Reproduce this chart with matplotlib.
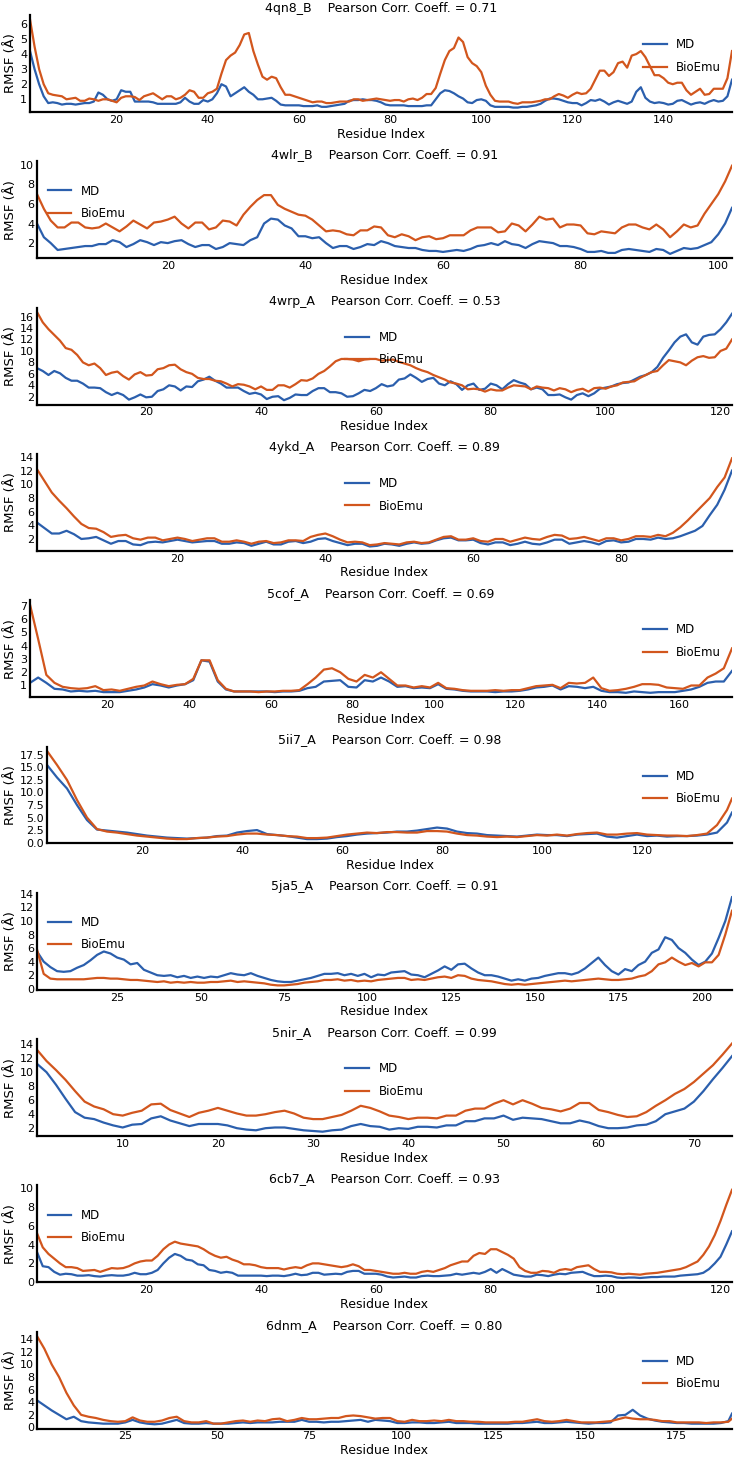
import numpy as np
import matplotlib.pyplot as plt
from matplotlib.ticker import MultipleLocator

plt.rcParams['font.family'] = 'DejaVu Sans'

# --- RMSF per residue (MD = blue, BioEmu = orange) ---

# 4qn8_B, residues 1..155
md_4qn8 = [4.2, 3.0, 2.0, 1.2, 0.75, 0.8, 0.75, 0.65, 0.7, 0.7,
           0.65, 0.7, 0.75, 0.75, 0.85, 1.45, 1.3, 1.0, 0.9, 1.0,
           1.6, 1.5, 1.5, 0.85, 0.85, 0.85, 0.85, 0.8, 0.7, 0.7,
           0.7, 0.7, 0.7, 0.8, 1.1, 0.85, 0.7, 0.7, 0.95, 0.85,
           1.0, 1.4, 2.0, 1.85, 1.2, 1.4, 1.6, 1.8, 1.5, 1.3,
           1.0, 1.0, 1.05, 1.1, 0.9, 0.65, 0.6, 0.6, 0.6, 0.6,
           0.55, 0.55, 0.55, 0.6, 0.5, 0.5, 0.55, 0.6, 0.65, 0.7,
           0.9, 0.95, 0.95, 1.0, 0.95, 0.95, 0.9, 0.8, 0.65, 0.6,
           0.6, 0.6, 0.6, 0.55, 0.55, 0.55, 0.55, 0.6, 0.6, 1.0,
           1.4, 1.6, 1.55, 1.4, 1.2, 1.05, 0.8, 0.75, 0.95, 1.0,
           0.9, 0.6, 0.5, 0.5, 0.5, 0.5, 0.45, 0.45, 0.5, 0.5,
           0.55, 0.6, 0.7, 0.9, 1.05, 1.05, 1.0, 0.9, 0.8, 0.75,
           0.75, 0.6, 0.75, 0.95, 0.9, 1.0, 0.85, 0.65, 0.8, 0.9,
           0.8, 0.7, 0.85, 1.5, 1.8, 1.1, 0.85, 0.75, 0.8, 0.75,
           0.65, 0.7, 0.9, 0.95, 0.8, 0.65, 0.75, 0.8, 0.7, 0.85,
           0.95, 0.85, 0.9, 1.2, 2.3]
bio_4qn8 = [6.3, 4.5, 3.0, 2.0, 1.4, 1.3, 1.25, 1.2, 1.0, 1.05,
            1.1, 0.9, 0.9, 1.05, 1.0, 0.9, 1.0, 1.0, 0.9, 0.8,
            1.1, 1.2, 1.2, 1.15, 0.95, 1.2, 1.3, 1.4, 1.2, 1.0,
            1.2, 1.2, 1.0, 1.1, 1.3, 1.6, 1.5, 1.1, 1.1, 1.4,
            1.5, 1.7, 2.7, 3.6, 3.9, 4.1, 4.6, 5.3, 5.4, 4.2,
            3.3, 2.5, 2.3, 2.5, 2.4, 1.8, 1.3, 1.3, 1.2, 1.1,
            1.0, 0.9, 0.8, 0.85, 0.85, 0.75, 0.75, 0.8, 0.85, 0.85,
            0.85, 1.0, 1.0, 0.9, 0.95, 1.0, 1.05, 1.0, 0.95, 0.9,
            0.95, 0.95, 0.85, 1.0, 1.05, 0.95, 1.1, 1.35, 1.35, 1.75,
            2.7, 3.6, 4.2, 4.4, 5.1, 4.8, 3.8, 3.4, 3.2, 2.8,
            1.9, 1.3, 0.9, 0.85, 0.85, 0.85, 0.75, 0.7, 0.8, 0.8,
            0.8, 0.85, 0.9, 1.0, 1.0, 1.2, 1.35, 1.25, 1.1, 1.3,
            1.45, 1.35, 1.4, 1.7, 2.3, 2.9, 2.9, 2.55, 2.8, 3.4,
            3.5, 3.1, 3.9, 4.0, 4.2, 3.8, 3.2, 2.6, 2.6, 2.4,
            2.1, 2.0, 2.1, 2.1, 1.6, 1.3, 1.5, 1.7, 1.3, 1.35,
            1.7, 1.7, 1.7, 2.4, 4.2]

# 4wlr_B, residues 1..102
md_4wlr = [4.0, 2.6, 2.0, 1.3, 1.4, 1.5, 1.6, 1.7, 1.7, 1.9,
           1.9, 2.3, 2.1, 1.6, 1.9, 2.3, 2.1, 1.8, 2.1, 2.0,
           2.2, 2.3, 1.9, 1.6, 1.8, 1.8, 1.4, 1.6, 2.0, 1.9,
           1.8, 2.3, 2.6, 4.0, 4.5, 4.4, 3.8, 3.5, 2.7, 2.7,
           2.5, 2.6, 2.0, 1.5, 1.7, 1.7, 1.4, 1.6, 1.9, 1.8,
           2.2, 2.0, 1.7, 1.6, 1.5, 1.5, 1.3, 1.2, 1.2, 1.1,
           1.2, 1.3, 1.2, 1.4, 1.7, 1.8, 2.0, 1.8, 2.2, 1.9,
           1.8, 1.5, 1.9, 2.2, 2.1, 2.0, 1.7, 1.7, 1.6, 1.4,
           1.1, 1.1, 1.2, 1.0, 1.0, 1.3, 1.4, 1.3, 1.2, 1.1,
           1.4, 1.3, 0.9, 1.2, 1.5, 1.4, 1.5, 1.8, 2.1, 2.9,
           4.0, 5.6]
bio_4wlr = [7.0, 5.5, 4.3, 3.6, 3.6, 4.1, 4.1, 3.6, 3.5, 3.6,
            4.0, 3.6, 3.2, 3.7, 4.3, 3.9, 3.5, 4.1, 4.2, 4.4,
            4.7, 4.0, 3.5, 4.1, 4.1, 3.4, 3.6, 4.3, 4.2, 3.8,
            4.9, 5.7, 6.4, 6.9, 6.9, 5.9, 5.5, 5.2, 4.9, 4.8,
            4.4, 3.8, 3.2, 3.3, 3.2, 2.9, 2.8, 3.3, 3.3, 3.7,
            3.6, 2.8, 2.6, 2.9, 2.7, 2.3, 2.6, 2.7, 2.4, 2.5,
            2.8, 2.8, 2.8, 3.3, 3.6, 3.6, 3.6, 3.1, 3.2, 4.0,
            3.8, 3.2, 3.9, 4.7, 4.4, 4.5, 3.6, 3.9, 3.9, 3.8,
            3.0, 2.9, 3.2, 3.1, 3.0, 3.6, 3.9, 3.9, 3.6, 3.4,
            3.9, 3.4, 2.6, 3.2, 3.9, 3.6, 3.8, 5.0, 6.0, 7.0,
            8.3, 9.9]

# 4wrp_A, residues 1..122
md_4wrp = [7.0, 6.5, 5.8, 6.5, 6.1, 5.3, 4.8, 4.8, 4.3, 3.6,
           3.6, 3.5, 2.8, 2.3, 2.7, 2.3, 1.5, 1.9, 2.4, 1.9,
           2.0, 3.0, 3.3, 4.0, 3.8, 3.1, 3.8, 3.7, 4.7, 5.0,
           5.5, 4.8, 4.3, 3.6, 3.6, 3.6, 3.0, 2.5, 2.7, 2.4,
           1.6, 2.0, 2.1, 1.4, 1.8, 2.4, 2.3, 2.3, 3.0, 3.5,
           3.5, 2.8, 2.8, 2.6, 2.0, 2.1, 2.6, 3.2, 3.0, 3.5,
           4.2, 3.8, 4.0, 5.0, 5.2, 5.9, 5.3, 4.6, 5.1, 5.3,
           4.3, 4.0, 4.7, 4.2, 3.2, 4.0, 4.3, 3.2, 3.4, 4.3,
           4.0, 3.3, 4.2, 4.9, 4.5, 4.2, 3.3, 3.6, 3.3, 2.3,
           2.3, 2.4, 1.9, 1.5, 2.3, 2.6, 2.1, 2.6, 3.4, 3.6,
           3.8, 4.2, 4.4, 4.5, 5.0, 5.5, 5.8, 6.3, 7.2, 8.8,
           10.1, 11.5, 12.5, 12.9, 11.5, 11.1, 12.5, 12.8, 12.9, 13.8,
           15.0, 16.5]
bio_4wrp = [16.8, 15.0, 13.8, 12.8, 11.8, 10.5, 10.2, 9.3, 8.0, 7.5,
            7.8, 7.0, 5.8, 6.2, 6.4, 5.6, 5.0, 5.9, 6.3, 5.7,
            5.8, 6.8, 7.0, 7.5, 7.6, 6.8, 6.3, 6.0, 5.3, 5.1,
            5.1, 4.8, 4.7, 4.3, 3.8, 4.2, 4.1, 3.8, 3.3, 3.8,
            3.2, 3.2, 4.0, 4.0, 3.6, 4.2, 4.9, 4.8, 5.2, 6.0,
            6.5, 7.3, 8.2, 8.6, 8.6, 8.5, 8.2, 8.5, 8.6, 8.6,
            8.3, 8.4, 8.5, 8.1, 7.8, 7.5, 7.0, 6.6, 6.3, 5.8,
            5.4, 5.0, 4.5, 4.3, 4.0, 3.3, 3.4, 3.3, 2.9, 3.3,
            3.1, 3.1, 3.6, 4.0, 3.9, 3.8, 3.3, 3.8, 3.6, 3.5,
            3.1, 3.5, 3.3, 2.8, 3.2, 3.4, 2.9, 3.5, 3.6, 3.4,
            3.8, 4.0, 4.5, 4.6, 4.7, 5.3, 5.8, 6.3, 6.5, 7.5,
            8.4, 8.2, 8.0, 7.5, 8.3, 8.9, 9.1, 8.8, 8.9, 10.0,
            10.4, 12.0]

# 4ykd_A, residues 1..95
md_4ykd = [4.4, 3.6, 2.8, 2.8, 3.2, 2.7, 2.0, 2.1, 2.3, 1.8,
           1.3, 1.7, 1.7, 1.2, 1.1, 1.5, 1.6, 1.5, 1.7, 1.9,
           1.7, 1.5, 1.6, 1.7, 1.7, 1.3, 1.3, 1.5, 1.4, 1.0,
           1.3, 1.6, 1.2, 1.2, 1.6, 1.7, 1.4, 1.6, 2.0, 2.1,
           1.7, 1.4, 1.1, 1.3, 1.3, 0.9, 1.0, 1.3, 1.2, 1.0,
           1.3, 1.5, 1.3, 1.4, 1.8, 2.1, 2.2, 1.8, 1.8, 1.9,
           1.4, 1.2, 1.5, 1.5, 1.1, 1.3, 1.6, 1.3, 1.2, 1.5,
           1.9, 1.9, 1.3, 1.5, 1.7, 1.5, 1.2, 1.7, 1.8, 1.5,
           1.6, 2.0, 2.0, 1.9, 2.2, 2.0, 2.1, 2.4, 2.8, 3.2,
           3.9, 5.5, 7.0, 9.2, 12.0]
bio_4ykd = [12.2, 10.5, 8.8, 7.6, 6.5, 5.3, 4.2, 3.6, 3.5, 3.0,
            2.3, 2.5, 2.6, 2.1, 1.9, 2.2, 2.2, 1.8, 2.0, 2.2,
            2.0, 1.7, 1.9, 2.1, 2.1, 1.6, 1.6, 1.8, 1.6, 1.3,
            1.6, 1.7, 1.4, 1.5, 1.8, 1.8, 1.7, 2.3, 2.6, 2.8,
            2.4, 1.9, 1.5, 1.6, 1.5, 1.1, 1.2, 1.4, 1.3, 1.2,
            1.5, 1.6, 1.4, 1.5, 1.9, 2.3, 2.4, 1.9, 1.9, 2.1,
            1.7, 1.6, 2.0, 2.0, 1.6, 1.9, 2.2, 2.0, 1.9, 2.3,
            2.6, 2.5, 2.0, 2.1, 2.3, 2.0, 1.7, 2.1, 2.1, 1.8,
            2.0, 2.4, 2.4, 2.3, 2.6, 2.4, 2.9, 3.7, 4.7, 5.8,
            6.9, 8.0, 9.6, 11.0, 13.8]

# 5cof_A, every second residue 1..173
res_5cof = list(range(1, 174, 2))
md_5cof = [1.2, 1.6, 1.2, 0.75, 0.7, 0.55, 0.6, 0.55, 0.6, 0.5,
           0.5, 0.5, 0.6, 0.7, 0.85, 1.1, 1.0, 0.85, 1.0, 1.1,
           1.4, 2.9, 2.8, 1.3, 0.7, 0.55, 0.55, 0.55, 0.55, 0.55,
           0.5, 0.55, 0.55, 0.6, 0.8, 0.9, 1.3, 1.35, 1.4, 0.9,
           0.85, 1.4, 1.3, 1.6, 1.3, 0.9, 0.95, 0.8, 0.85, 0.8,
           1.1, 0.75, 0.7, 0.6, 0.55, 0.55, 0.55, 0.5, 0.55, 0.55,
           0.6, 0.7, 0.85, 0.9, 1.0, 0.7, 0.95, 0.9, 0.8, 0.9,
           0.6, 0.5, 0.5, 0.45, 0.55, 0.5, 0.45, 0.5, 0.5, 0.5,
           0.6, 0.7, 0.9, 1.2, 1.3, 1.3, 2.1]
bio_5cof = [7.1, 4.5, 1.8, 1.2, 0.9, 0.8, 0.75, 0.8, 0.95, 0.65,
            0.7, 0.6, 0.75, 0.9, 1.0, 1.3, 1.1, 0.95, 1.05, 1.1,
            1.5, 2.9, 2.9, 1.4, 0.75, 0.55, 0.55, 0.55, 0.5, 0.55,
            0.55, 0.6, 0.6, 0.65, 1.1, 1.6, 2.2, 2.3, 2.0, 1.5,
            1.3, 1.8, 1.6, 2.0, 1.5, 1.0, 1.0, 0.85, 0.95, 0.85,
            1.2, 0.8, 0.75, 0.65, 0.6, 0.6, 0.6, 0.65, 0.6, 0.65,
            0.65, 0.8, 0.95, 1.0, 1.05, 0.8, 1.2, 1.15, 1.2, 1.6,
            0.8, 0.6, 0.65, 0.75, 0.9, 1.1, 1.1, 1.05, 0.85, 0.8,
            0.75, 1.0, 1.0, 1.6, 1.9, 2.3, 3.8]

# 5ii7_A, every second residue 1..137 plus 138
res_5ii7 = list(range(1, 138, 2)) + [138]
md_5ii7 = [15.5, 13.0, 10.8, 7.5, 4.5, 2.6, 2.4, 2.2, 2.0, 1.7,
           1.4, 1.2, 1.0, 0.9, 0.8, 0.9, 1.0, 1.3, 1.4, 2.0,
           2.3, 2.5, 1.7, 1.5, 1.3, 1.0, 0.7, 0.7, 0.8, 1.1,
           1.3, 1.6, 1.8, 1.9, 2.0, 2.2, 2.2, 2.4, 2.7, 3.0,
           2.8, 2.2, 1.9, 1.8, 1.5, 1.4, 1.3, 1.2, 1.4, 1.6,
           1.5, 1.5, 1.3, 1.6, 1.7, 1.8, 1.2, 1.0, 1.3, 1.6,
           1.3, 1.4, 1.2, 1.3, 1.3, 1.4, 1.6, 2.0, 4.0, 6.0]
bio_5ii7 = [18.3, 15.5, 12.5, 8.5, 5.0, 2.7, 2.2, 2.0, 1.7, 1.4,
            1.2, 1.0, 0.8, 0.7, 0.7, 0.9, 1.0, 1.2, 1.3, 1.6,
            1.8, 1.8, 1.6, 1.5, 1.3, 1.2, 0.9, 0.9, 1.0, 1.3,
            1.6, 1.8, 2.0, 1.9, 2.1, 2.1, 2.0, 2.0, 2.3, 2.3,
            2.2, 1.8, 1.5, 1.4, 1.2, 1.1, 1.2, 1.1, 1.3, 1.5,
            1.4, 1.6, 1.4, 1.7, 1.9, 2.0, 1.6, 1.6, 1.8, 1.9,
            1.6, 1.5, 1.4, 1.4, 1.3, 1.5, 1.8, 3.5, 6.5, 8.8]

# 5ja5_A, every second residue 1..209
res_5ja5 = list(range(1, 210, 2))
md_5ja5 = [5.5, 4.0, 3.2, 2.6, 2.5, 2.6, 3.1, 3.5, 4.2, 5.0,
           5.5, 5.2, 4.6, 4.3, 3.6, 3.8, 2.8, 2.4, 2.0, 1.9,
           2.0, 1.7, 1.9, 1.6, 1.8, 1.6, 1.8, 1.7, 2.0, 2.3,
           2.1, 2.0, 2.3, 1.9, 1.6, 1.3, 1.1, 1.0, 1.0, 1.2,
           1.4, 1.6, 1.9, 2.2, 2.2, 2.3, 2.0, 2.2, 1.9, 2.2,
           1.7, 2.1, 2.0, 2.4, 2.5, 2.6, 2.1, 2.0, 1.7, 2.2,
           2.7, 3.3, 2.8, 3.6, 3.7, 3.0, 2.4, 2.0, 2.0, 1.8,
           1.5, 1.2, 1.4, 1.2, 1.5, 1.6, 1.9, 2.1, 2.3, 2.3,
           2.1, 2.4, 3.0, 3.8, 4.6, 3.5, 2.6, 2.1, 2.9, 2.6,
           3.5, 4.0, 5.3, 5.8, 7.6, 7.2, 6.0, 5.3, 4.3, 3.5,
           4.0, 5.2, 7.5, 10.0, 13.5]
bio_5ja5 = [5.8, 2.2, 1.5, 1.4, 1.4, 1.4, 1.4, 1.4, 1.5, 1.6,
            1.6, 1.5, 1.5, 1.4, 1.3, 1.3, 1.2, 1.1, 1.0, 1.1,
            0.9, 1.0, 0.9, 1.0, 0.9, 0.9, 1.0, 1.0, 1.1, 1.2,
            1.0, 1.1, 1.0, 0.9, 0.8, 0.6, 0.5, 0.5, 0.6, 0.7,
            0.9, 1.0, 1.1, 1.3, 1.3, 1.4, 1.2, 1.3, 1.1, 1.2,
            1.1, 1.3, 1.4, 1.5, 1.6, 1.6, 1.3, 1.4, 1.3, 1.5,
            1.7, 1.8, 1.6, 2.0, 1.9, 1.5, 1.3, 1.2, 1.1, 0.9,
            0.7, 0.6, 0.7, 0.6, 0.7, 0.8, 0.9, 1.0, 1.1, 1.2,
            1.1, 1.2, 1.3, 1.4, 1.5, 1.4, 1.3, 1.3, 1.4, 1.5,
            1.8, 2.0, 2.6, 3.6, 3.9, 4.6, 4.0, 3.5, 3.8, 3.3,
            3.9, 3.9, 5.0, 8.0, 11.5]

# 5nir_A, residues 1..74
md_5nir = [11.2, 10.0, 8.2, 6.2, 4.3, 3.5, 3.3, 2.8, 2.4, 2.1,
           2.5, 2.6, 3.4, 3.7, 3.1, 2.7, 2.3, 2.6, 2.6, 2.6,
           2.4, 2.0, 1.8, 1.7, 2.0, 2.1, 2.1, 1.9, 1.7, 1.6,
           1.5, 1.7, 1.8, 2.3, 2.6, 2.3, 2.2, 1.8, 2.0, 1.9,
           2.2, 2.2, 2.1, 2.4, 2.4, 3.0, 3.0, 3.4, 3.4, 3.8,
           3.2, 3.5, 3.4, 3.3, 3.0, 2.7, 2.7, 3.1, 2.8, 2.3,
           2.0, 2.0, 2.1, 2.4, 2.5, 3.0, 4.0, 4.4, 4.8, 5.8,
           7.3, 9.0, 10.6, 12.3]
bio_5nir = [13.2, 11.6, 10.3, 8.9, 7.3, 5.8, 5.1, 4.7, 4.0, 3.8,
            4.2, 4.5, 5.4, 5.5, 4.6, 4.1, 3.6, 4.2, 4.5, 4.9,
            4.5, 4.1, 3.8, 3.8, 4.0, 4.3, 4.5, 4.1, 3.5, 3.3,
            3.3, 3.6, 3.9, 4.5, 5.2, 4.9, 4.4, 3.8, 3.6, 3.3,
            3.5, 3.5, 3.4, 3.8, 3.8, 4.5, 4.8, 4.8, 5.5, 6.0,
            5.4, 6.0, 5.5, 4.9, 4.7, 4.4, 4.8, 5.6, 5.6, 4.6,
            4.3, 3.9, 3.6, 3.7, 4.3, 5.2, 6.0, 6.9, 7.6, 8.6,
            9.8, 11.0, 12.5, 14.1]

# 6cb7_A, residues 1..122
md_6cb7 = [3.2, 1.7, 1.6, 1.1, 0.8, 0.9, 0.85, 0.7, 0.7, 0.75,
           0.65, 0.6, 0.7, 0.75, 0.7, 0.7, 0.8, 1.0, 0.85, 0.85,
           1.0, 1.3, 2.0, 2.6, 3.0, 2.8, 2.4, 2.3, 1.9, 1.8,
           1.3, 1.2, 1.0, 1.1, 1.0, 0.7, 0.7, 0.7, 0.7, 0.7,
           0.65, 0.7, 0.7, 0.65, 0.75, 0.9, 0.75, 0.8, 1.0, 1.0,
           0.8, 0.85, 0.9, 0.85, 1.1, 1.2, 1.2, 0.9, 0.9, 0.9,
           0.8, 0.6, 0.5, 0.55, 0.6, 0.5, 0.5, 0.65, 0.7, 0.65,
           0.65, 0.7, 0.75, 0.9, 0.8, 0.9, 1.0, 0.9, 1.1, 1.4,
           1.0, 1.4, 1.1, 0.8, 0.7, 0.6, 0.6, 0.8, 0.75, 0.65,
           0.8, 0.9, 0.85, 1.0, 1.05, 1.1, 0.85, 0.65, 0.65, 0.7,
           0.65, 0.5, 0.45, 0.5, 0.5, 0.45, 0.5, 0.55, 0.55, 0.6,
           0.6, 0.6, 0.7, 0.75, 0.8, 0.85, 1.0, 1.4, 2.0, 2.7,
           4.0, 5.4]
bio_6cb7 = [5.2, 3.7, 3.0, 2.5, 2.0, 1.6, 1.6, 1.5, 1.2, 1.25,
            1.3, 1.1, 1.3, 1.5, 1.45, 1.5, 1.7, 2.0, 2.2, 2.3,
            2.3, 2.8, 3.5, 4.0, 4.3, 4.1, 4.0, 3.9, 3.8, 3.5,
            3.1, 2.8, 2.6, 2.7, 2.4, 2.2, 1.9, 1.9, 1.8, 1.6,
            1.5, 1.5, 1.5, 1.35, 1.5, 1.6, 1.5, 1.8, 2.0, 2.0,
            1.9, 1.8, 1.7, 1.6, 1.7, 1.9, 1.7, 1.3, 1.3, 1.2,
            1.1, 1.0, 0.9, 0.9, 1.0, 0.9, 0.9, 1.1, 1.2, 1.1,
            1.3, 1.5, 1.8, 2.0, 2.2, 2.2, 2.8, 3.1, 3.0, 3.5,
            3.5, 3.2, 2.9, 2.5, 1.6, 1.2, 1.0, 1.0, 1.2, 1.15,
            1.0, 1.3, 1.4, 1.3, 1.6, 1.7, 1.8, 1.4, 1.1, 1.1,
            1.05, 0.9, 0.85, 0.9, 0.85, 0.8, 0.9, 0.95, 1.0, 1.1,
            1.2, 1.3, 1.4, 1.6, 1.9, 2.2, 2.9, 3.8, 5.0, 6.5,
            8.2, 9.8]

# 6dnm_A, every second residue 1..189 plus 190
res_6dnm = list(range(1, 190, 2)) + [190]
md_6dnm = [4.3, 3.5, 2.7, 2.0, 1.3, 1.7, 1.0, 0.8, 0.7, 0.6,
           0.6, 0.6, 0.8, 1.2, 0.8, 0.6, 0.5, 0.6, 0.9, 1.2,
           0.7, 0.6, 0.6, 0.7, 0.6, 0.6, 0.6, 0.7, 0.8, 0.7,
           0.8, 0.8, 0.8, 0.9, 0.9, 0.9, 1.2, 0.9, 0.9, 0.8,
           0.9, 0.9, 1.0, 1.1, 1.2, 0.9, 1.2, 1.1, 1.0, 0.7,
           0.7, 0.8, 0.8, 0.7, 0.7, 0.8, 0.9, 0.7, 0.7, 0.7,
           0.6, 0.6, 0.6, 0.6, 0.6, 0.7, 0.7, 0.8, 0.9, 0.7,
           0.7, 0.8, 0.9, 0.8, 0.7, 0.6, 0.7, 0.7, 0.8, 1.9,
           2.0, 2.8, 1.9, 1.4, 1.1, 0.9, 0.8, 0.7, 0.7, 0.6,
           0.6, 0.6, 0.6, 0.7, 1.0, 2.2]
bio_6dnm = [14.5, 12.5, 10.0, 8.0, 5.5, 3.5, 2.0, 1.7, 1.5, 1.2,
            1.0, 0.9, 1.0, 1.6, 1.1, 0.9, 0.9, 1.1, 1.5, 1.7,
            1.0, 0.8, 0.8, 1.0, 0.6, 0.6, 0.8, 1.0, 1.1, 0.9,
            1.1, 1.0, 1.3, 1.4, 1.0, 1.2, 1.5, 1.3, 1.3, 1.4,
            1.5, 1.5, 1.8, 1.9, 1.8, 1.6, 1.4, 1.5, 1.5, 1.0,
            0.9, 1.2, 1.0, 1.0, 1.1, 1.0, 1.2, 1.0, 1.0, 0.9,
            0.9, 0.8, 0.8, 0.8, 0.8, 0.9, 0.9, 1.1, 1.3, 1.0,
            0.9, 1.0, 1.2, 1.0, 0.8, 0.8, 0.8, 0.9, 1.0, 1.3,
            1.6, 1.4, 1.3, 1.3, 1.2, 1.0, 1.0, 0.8, 0.8, 0.8,
            0.8, 0.7, 0.8, 0.8, 0.9, 1.4]

names = ['4qn8_B', '4wlr_B', '4wrp_A', '4ykd_A', '5cof_A',
         '5ii7_A', '5ja5_A', '5nir_A', '6cb7_A', '6dnm_A']
pearson = [0.71, 0.91, 0.53, 0.89, 0.69, 0.98, 0.91, 0.99, 0.93, 0.80]
md_all = [md_4qn8, md_4wlr, md_4wrp, md_4ykd, md_5cof,
          md_5ii7, md_5ja5, md_5nir, md_6cb7, md_6dnm]
bio_all = [bio_4qn8, bio_4wlr, bio_4wrp, bio_4ykd, bio_5cof,
           bio_5ii7, bio_5ja5, bio_5nir, bio_6cb7, bio_6dnm]
res_all = [None, None, None, None, res_5cof,
           res_5ii7, res_5ja5, None, None, res_6dnm]

# layout / style
legend_loc = ['upper right', 'upper left', 'upper center', 'upper center', 'upper right',
              'upper right', 'upper left', 'upper center', 'upper left', 'upper right']
ystep = [1, 2, 2, 2, 1, 2.5, 2, 2, 2, 2]
xstep = [20, 20, 20, 20, 20, 20, 25, 10, 20, 25]
left_px = [30, 37, 37, 37, 30, 47, 37, 37, 37, 37]

c_md = '#2b5fad'
c_bio = '#d2561d'

W, H = 734, 1463
fig = plt.figure(figsize=(W / 100, H / 100), dpi=100)
panel_h = H / 10

for i in range(10):
    top = i * panel_h + 15
    bot = i * panel_h + 112
    ax = fig.add_axes([left_px[i] / W, 1 - bot / H, (732 - left_px[i]) / W, (bot - top) / H])

    md = md_all[i]
    bio = bio_all[i]
    x = res_all[i] if res_all[i] is not None else np.arange(1, len(md) + 1)

    ax.plot(x, md, color=c_md, lw=1.6, label='MD')
    ax.plot(x, bio, color=c_bio, lw=1.6, label='BioEmu')
    ax.set_xlim(x[0], x[-1])
    ax.xaxis.set_major_locator(MultipleLocator(xstep[i]))
    ax.yaxis.set_major_locator(MultipleLocator(ystep[i]))

    ax.set_title(f'{names[i]}    Pearson Corr. Coeff. = {pearson[i]:.2f}', fontsize=9, pad=1)
    ax.set_xlabel('Residue Index', fontsize=9, labelpad=2)
    ax.set_ylabel('RMSF (Å)', fontsize=9.5, labelpad=2)

    for s in ['top', 'right']:
        ax.spines[s].set_visible(False)
    for s in ['left', 'bottom']:
        ax.spines[s].set_linewidth(1.6)
    ax.tick_params(length=0, labelsize=8, pad=2)

    loc = legend_loc[i]
    ax_x = {'upper right': 1.0, 'upper left': 0.0, 'upper center': 0.5}[loc]
    ax.legend(loc=loc, bbox_to_anchor=(ax_x, 0.87), frameon=False, fontsize=8.5,
              labelspacing=0.8, borderaxespad=0.5, handlelength=2.0)

fig.savefig('out.png', dpi=100)
